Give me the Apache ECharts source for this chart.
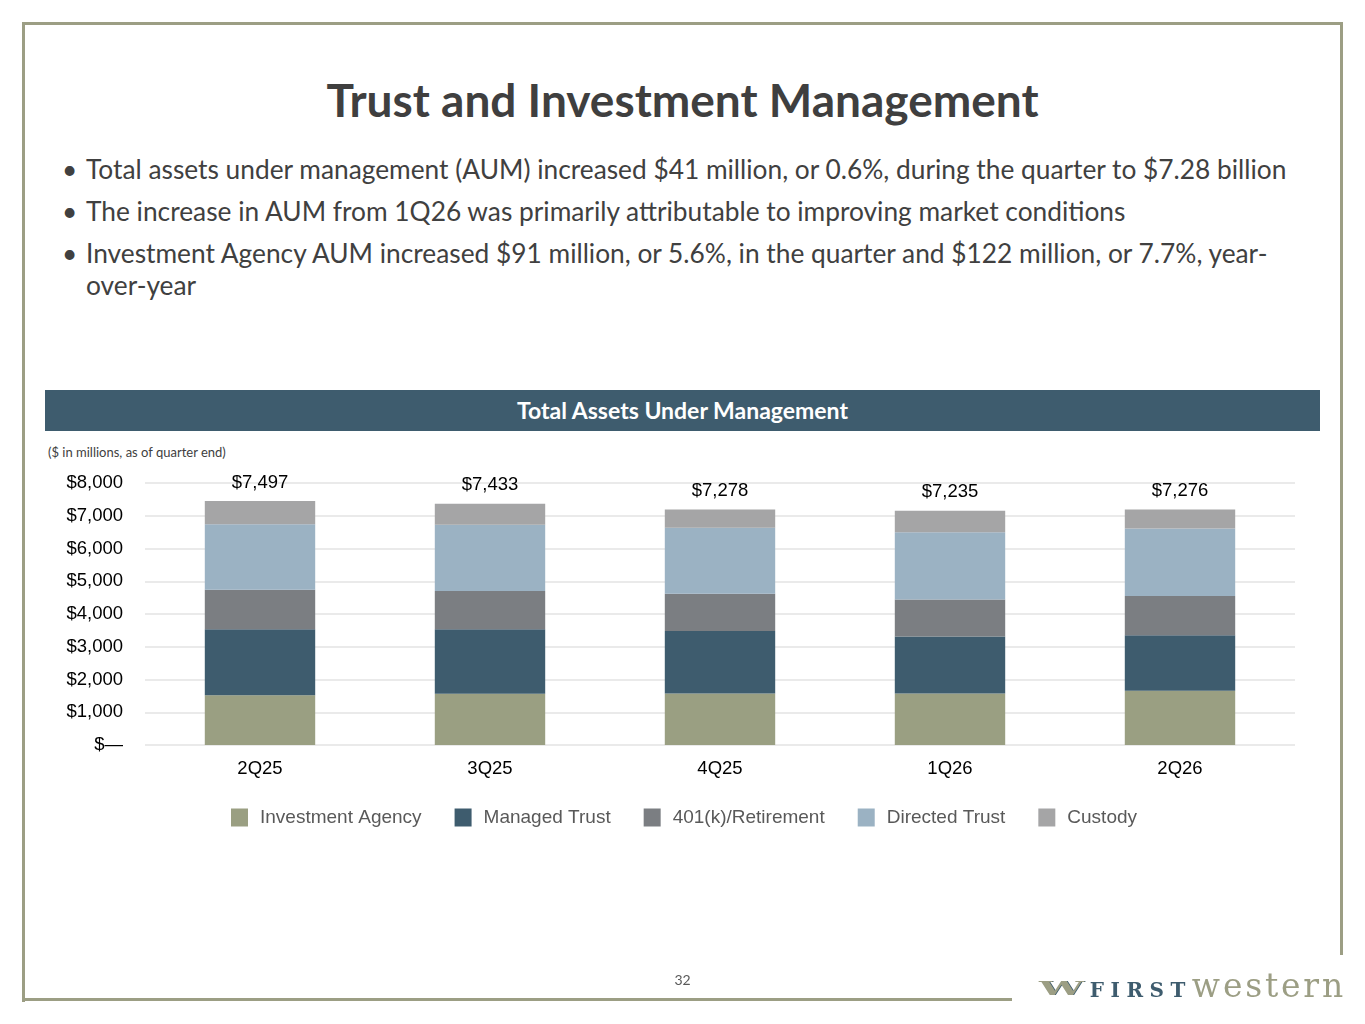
<!DOCTYPE html>
<html>
<head>
    <meta charset="UTF-8">
    <title>Trust and Investment Management</title>
    <script src="https://cdn.jsdelivr.net/npm/echarts@6/dist/echarts.min.js"></script>
    <style>
        body { margin: 0; background: #fff; font-family: Lato, sans-serif; }
        #slide { position: relative; width: 1365px; height: 1024px; overflow: hidden; }
        .ln { position: absolute; background: #9c9e84; }
        #title { position: absolute; left: 0; width: 1365px; top: 72px; text-align: center;
                 font-size: 46px; font-weight: bold; color: #3f3f3f; }
        ul { position: absolute; left: 62px; top: 153px; width: 1250px; margin: 0; padding: 0; list-style: none;
             font-size: 26.3px; color: #404040; line-height: 32px; }
        li { position: relative; padding-left: 24px; margin-bottom: 10px; }
        li:before { content: "\2022"; position: absolute; left: 0; top: 0; }
        #hdr { position: absolute; left: 45px; top: 390px; width: 1275px; height: 41px; background: #3e5c6e;
               color: #fff; font-weight: bold; font-size: 23px; text-align: center; line-height: 40px; }
        #note { position: absolute; left: 48px; top: 444px; font-size: 13px; color: #404040; }
        #main { position: absolute; left: 0; top: 0; width: 1365px; height: 1024px; }
        #pg { position: absolute; left: 0; width: 1365px; top: 971px; text-align: center; font-size: 14px; color: #595959; }
        #logo { position: absolute; left: 1040px; top: 963px; font-family: "DejaVu Serif", serif; white-space: nowrap; }
        #logo .w1, #logo .w2 { display: inline-block; font-size: 40px; font-weight: bold; line-height: 40px;
                               transform: scaleY(0.45); transform-origin: 50% 75%; }
        #logo .w1 { color: #3e5c6e; }
        #logo .w2 { color: #9c9e84; margin-left: -46px; margin-right: 6px; }
        #logo .f { color: #3e5c6e; font-size: 20px; font-weight: bold; letter-spacing: 6.5px; }
        #logo .we { color: #9c9e84; font-size: 33px; letter-spacing: 2.8px; }
    </style>
</head>
<body>
<div id="slide">
    <div class="ln" style="left:22px;top:22px;width:1321px;height:3px;"></div>
    <div class="ln" style="left:22px;top:22px;width:3px;height:980px;"></div>
    <div class="ln" style="left:1340px;top:22px;width:3px;height:933px;"></div>
    <div class="ln" style="left:22px;top:998px;width:990px;height:3px;"></div>

    <div id="title">Trust and Investment Management</div>
    <ul>
        <li>Total assets under management (AUM) increased $41 million, or 0.6%, during the quarter to $7.28 billion</li>
        <li>The increase in AUM from 1Q26 was primarily attributable to improving market conditions</li>
        <li>Investment Agency AUM increased $91 million, or 5.6%, in the quarter and $122 million, or 7.7%, year-over-year</li>
    </ul>
    <div id="hdr">Total Assets Under Management</div>
    <div id="note">($ in millions, as of quarter end)</div>
    <div id="main"></div>
    <div id="pg">32</div>
    <div id="logo"><span class="w1">W</span><span class="w2">W</span><span class="f">FIRST</span><span class="we">western</span></div>
</div>
<script>
    // 数据（单位：百万美元）
    var quarters = ['2Q25', '3Q25', '4Q25', '1Q26', '2Q26'];
    var investmentAgency = [1522, 1563, 1573, 1573, 1655];
    var managedTrust = [2013, 1972, 1911, 1737, 1696];
    var retirement = [1206, 1165, 1134, 1134, 1196];
    var directedTrust = [2002, 2023, 2013, 2054, 2063];
    var custody = [705, 643, 562, 654, 583];
    var totals = [7497, 7433, 7278, 7235, 7276];
    var yTicks = [0, 1000, 2000, 3000, 4000, 5000, 6000, 7000, 8000];

    var myChart = echarts.init(document.getElementById('main'));

    function money(v) {
        if (v === 0) return '$\u2014';
        return '$' + v.toString().replace(/\B(?=(\d{3})+(?!\d))/g, ',');
    }

    var names = ['Investment Agency', 'Managed Trust', '401(k)/Retirement', 'Directed Trust', 'Custody'];
    var colors = ['#9a9f82', '#3e5c6e', '#7b7e82', '#9bb2c3', '#a5a5a6'];
    var values = [investmentAgency, managedTrust, retirement, directedTrust, custody];

    var series = [];
    for (var i = 0; i < names.length; i++) {
        var s = {
            name: names[i],
            type: 'bar',
            stack: 'aum',
            barWidth: '48%',
            data: values[i],
            itemStyle: { color: colors[i] }
        };
        if (i === names.length - 1) {
            // 柱顶显示合计
            s.label = {
                show: true,
                position: 'top',
                distance: 9,
                fontFamily: 'Liberation Sans',
                fontSize: 18.5,
                color: '#000',
                formatter: function (p) { return money(totals[p.dataIndex]); }
            };
        }
        series.push(s);
    }

    var option = {
        animation: false,
        textStyle: { fontFamily: 'Liberation Sans' },
        grid: { left: 145, top: 483, width: 1150, height: 262 },
        legend: {
            left: 226,
            top: 803,
            itemWidth: 17,
            itemHeight: 18,
            itemGap: 33,
            icon: 'rect',
            textStyle: { fontSize: 19, color: '#595959', fontFamily: 'Liberation Sans', padding: [0, 0, 0, 7] },
            data: names
        },
        xAxis: {
            type: 'category',
            data: quarters,
            axisLine: { show: false },
            axisTick: { show: false },
            axisLabel: { fontSize: 18.5, color: '#000', margin: 14 }
        },
        yAxis: {
            type: 'value',
            min: yTicks[0],
            max: yTicks[yTicks.length - 1],
            interval: 1000,
            splitLine: { lineStyle: { color: '#e3e3e3', width: 1.5 } },
            axisLabel: { fontSize: 18.5, color: '#000', margin: 22, formatter: money }
        },
        series: series
    };

    myChart.setOption(option);
</script>
</body>
</html>
